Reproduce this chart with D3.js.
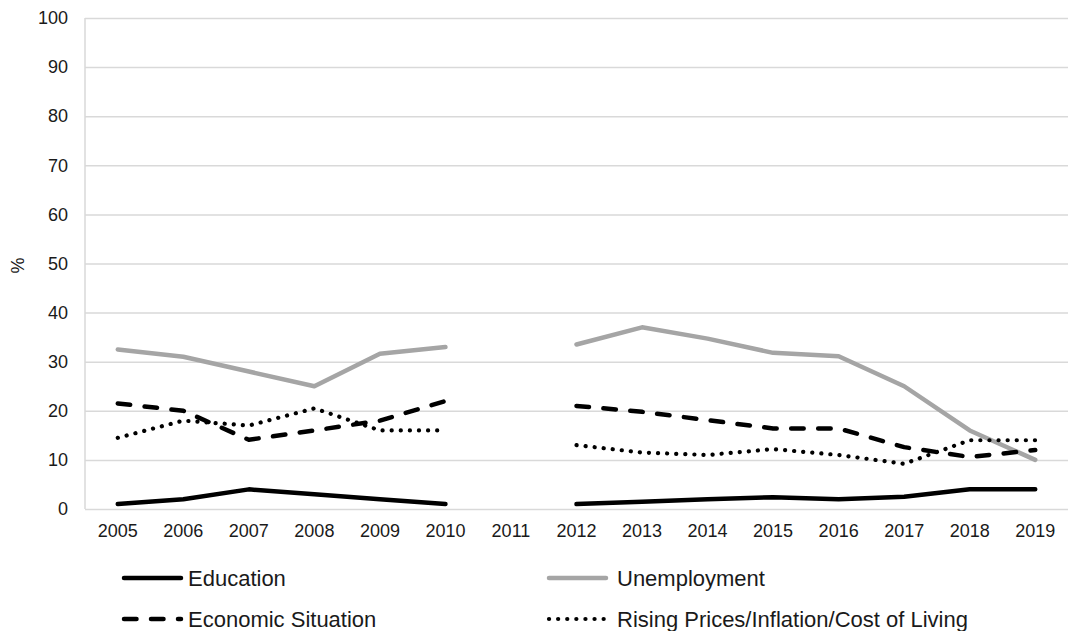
<!DOCTYPE html>
<html>
<head>
<meta charset="utf-8">
<script src="https://cdn.jsdelivr.net/npm/d3@7"></script>
<style>
  html, body { margin: 0; padding: 0; background: #fff; }
  svg { display: block; font-family: "Liberation Sans", Arial, sans-serif; }
</style>
</head>
<body>
<svg id="chart" width="1070" height="631"></svg>
<script>
// Survey years (2011 had no survey)
const years = ["2005","2006","2007","2008","2009","2010","2011","2012","2013","2014","2015","2016","2017","2018","2019"];

// Share of respondents naming each issue, %
const education    = [1, 2, 4, 3, 2, 1, null, 1, 1.5, 2, 2.4, 2, 2.5, 4, 4];
const unemployment = [32.5, 31, 28, 25, 31.6, 33, null, 33.5, 37, 34.7, 31.8, 31.1, 25, 16, 10];
const economic     = [21.5, 20, 14.1, 16, 18, 22, null, 21, 19.8, 18.1, 16.4, 16.4, 12.6, 10.6, 12];
const inflation    = [14.5, 18, 17, 20.5, 16, 16, null, 13, 11.5, 11, 12.2, 11, 9.2, 14, 14];

const yTicks = [0, 10, 20, 30, 40, 50, 60, 70, 80, 90, 100];

const seriesList = [
  { name: "Education",    values: education,    color: "#000000", width: 4.5, dash: null },
  { name: "Unemployment", values: unemployment, color: "#a5a5a5", width: 4.5, dash: null },
  { name: "Economic Situation", values: economic, color: "#000000", width: 4.5, dash: "12.5,14.5" },
  { name: "Rising Prices/Inflation/Cost of Living", values: inflation, color: "#000000", width: 4.2, dash: "0.1,9" }
];

const svg = d3.select("#chart");
const plot = { left: 85, right: 1068, top: 18, bottom: 509 };

const x = d3.scaleBand().domain(years).range([plot.left, plot.right]).padding(0);
const y = d3.scaleLinear().domain([0, 100]).range([plot.bottom, plot.top]);
const cx = d => x(d) + x.bandwidth() / 2;

// Horizontal gridlines
const grid = svg.append("g")
  .attr("transform", `translate(${plot.left},0)`)
  .call(d3.axisLeft(y).tickValues(yTicks).tickSize(-(plot.right - plot.left)).tickFormat(""));
grid.select(".domain").remove();
grid.selectAll("line").attr("stroke", "#d9d9d9").attr("stroke-width", 1.5);

// Vertical axis line
svg.append("line")
  .attr("x1", plot.left).attr("x2", plot.left)
  .attr("y1", y(100)).attr("y2", y(0))
  .attr("stroke", "#d9d9d9").attr("stroke-width", 1.5);

// Y tick labels
const yAxis = svg.append("g")
  .attr("transform", `translate(${plot.left},0)`)
  .call(d3.axisLeft(y).tickValues(yTicks).tickSize(0).tickPadding(17));
yAxis.select(".domain").remove();
yAxis.selectAll("text")
  .attr("font-family", "Liberation Sans, Arial, sans-serif")
  .attr("font-size", 18).attr("fill", "#1a1a1a");

// X tick labels
const xAxis = svg.append("g")
  .attr("transform", `translate(0,${plot.bottom})`)
  .call(d3.axisBottom(x).tickSize(0).tickPadding(15));
xAxis.select(".domain").remove();
xAxis.selectAll("text")
  .attr("font-family", "Liberation Sans, Arial, sans-serif")
  .attr("font-size", 18).attr("fill", "#1a1a1a");

// Y axis title
svg.append("text")
  .attr("transform", `translate(24,${(plot.top + plot.bottom) / 2 + 2}) rotate(-90)`)
  .attr("text-anchor", "middle")
  .attr("font-size", 18).attr("fill", "#1a1a1a")
  .text("%");

// Series lines
const line = d3.line()
  .defined(v => v != null)
  .x((v, i) => cx(years[i]))
  .y(v => y(v));

seriesList.forEach(s => {
  svg.append("path")
    .datum(s.values)
    .attr("d", line)
    .attr("fill", "none")
    .attr("stroke", s.color)
    .attr("stroke-width", s.width)
    .attr("stroke-linecap", "round")
    .attr("stroke-linejoin", "round")
    .attr("stroke-dasharray", s.dash);
});

// Legend: two columns, two rows
const legendPos = [
  { sx: 124, tx: 188, y: 578 },
  { sx: 549, tx: 617, y: 578 },
  { sx: 124, tx: 188, y: 619 },
  { sx: 549, tx: 617, y: 619 }
];
seriesList.forEach((s, i) => {
  const p = legendPos[i];
  svg.append("line")
    .attr("x1", p.sx).attr("x2", p.sx + 57)
    .attr("y1", p.y).attr("y2", p.y)
    .attr("stroke", s.color)
    .attr("stroke-width", s.width)
    .attr("stroke-linecap", "round")
    .attr("stroke-dasharray", s.dash);
  svg.append("text")
    .attr("x", p.tx).attr("y", p.y)
    .attr("dy", "0.35em")
    .attr("font-size", 22).attr("fill", "#1a1a1a")
    .text(s.name);
});
</script>
</body>
</html>
